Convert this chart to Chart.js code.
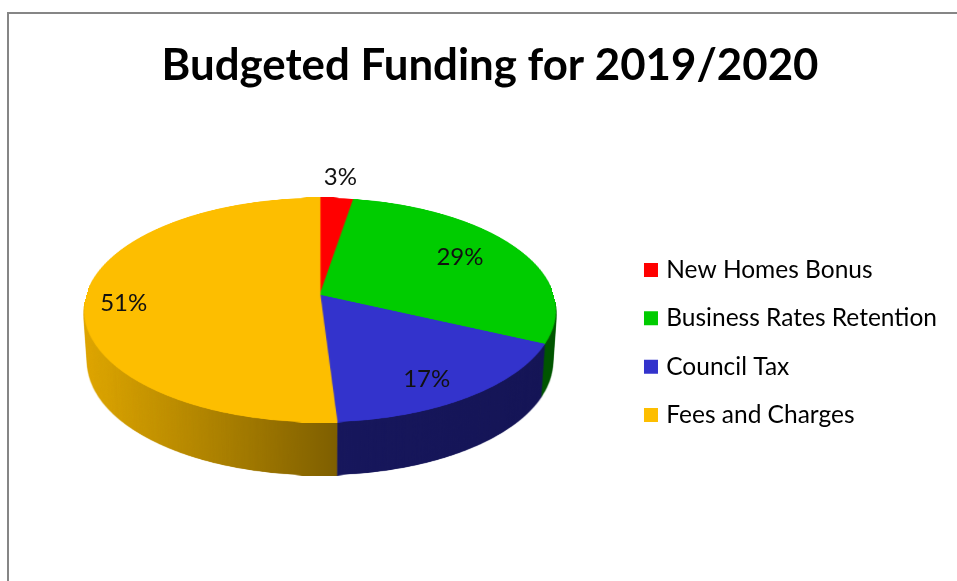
<!DOCTYPE html>
<html>
<head>
<meta charset="utf-8">
<title>Budgeted Funding for 2019/2020</title>
<script src="https://cdn.jsdelivr.net/npm/chart.js@4"></script>
<style>
  body { margin: 0; background: #fff; overflow: hidden; }
  #frame { position: absolute; left: 7px; top: 12px; width: 960px; height: 580px; border: 2px solid #868686; }
  #pie { position: absolute; left: 0; top: 0; }
</style>
</head>
<body>
<div id="frame"></div>
<canvas id="pie" width="957" height="581"></canvas>
<script>
const categories = ["New Homes Bonus", "Business Rates Retention", "Council Tax", "Fees and Charges"];
const shares = [2.6, 29.3, 17.1, 51];
const colours = ["#ff0000", "#00cc00", "#3333cc", "#fdbe00"];
// where each % label sits along its slice, 1 = on the rim, plus a small nudge
const labelRadius = [1.25, 0.73, 0.8, 0.83];
const labelNudgeX = [0, -4, -9, -2];
const labelNudgeY = [0, -2, 5, 5];

// tilted disc: apex of the pie on screen, and the perspective of the tilt
const apexX = 320, apexY = 295;
const tiltA = 110, tiltK = -0.134, rimX = 233.4;
const discTop = -97, discBottom = 127;
const wallDepth = 53, wallShrink = 0.016;

function layer() {
    const c = document.createElement("canvas");
    c.width = 957;
    c.height = 581;
    return c;
}

// unit circle point -> screen point
function project(x, y) {
    const d = 1 + tiltK * y;
    return { x: apexX + rimX * x / d, y: apexY + tiltA * y / d };
}

const tilted_pie = {
    id: "tilted_pie",
    beforeDatasetsDraw(chart) {
        const arcs = chart.getDatasetMeta(0).data;
        const R = arcs[0].outerRadius;

        // flat pie, drawn big by the arc elements
        const flatSize = 800;
        const flat = document.createElement("canvas");
        flat.width = flat.height = flatSize;
        const fctx = flat.getContext("2d");
        fctx.scale(flatSize / (2 * R), flatSize / (2 * R));
        fctx.translate(R - arcs[0].x, R - arcs[0].y);
        arcs.forEach(a => a.draw(fctx));

        // row by row onto the tilted disc
        const disc = layer();
        const dctx = disc.getContext("2d");
        dctx.imageSmoothingQuality = "high";
        for (let row = discTop - 1; row <= discBottom; row++) {
            const u0 = Math.max(-1, row / (tiltA - tiltK * row));
            const u1 = Math.min(1, (row + 1) / (tiltA - tiltK * (row + 1)));
            if (u1 <= u0) continue;
            const s = 1 / (1 + tiltK * (u0 + u1) / 2);
            dctx.drawImage(flat, 0, (u0 + 1) / 2 * flatSize, flatSize, (u1 - u0) / 2 * flatSize,
                apexX - rimX * s, apexY + row, 2 * rimX * s, 1);
        }

        // side wall: the disc stacked downwards, then shaded
        const wall = layer();
        const wctx = wall.getContext("2d");
        for (let d = wallDepth; d >= 1; d--) {
            const sx = 1 - wallShrink * d / wallDepth;
            wctx.drawImage(disc, apexX * (1 - sx), d, 957 * sx, 581);
        }
        const shade = wctx.createLinearGradient(84, 0, 556, 0);
        shade.addColorStop(0, "rgba(0,0,0,0.12)");
        shade.addColorStop(0.537, "rgba(0,0,0,0.5)");
        shade.addColorStop(0.538, "rgba(0,0,0,0.55)");
        shade.addColorStop(1, "rgba(0,0,0,0.58)");
        wctx.globalCompositeOperation = "source-atop";
        wctx.fillStyle = shade;
        wctx.fillRect(0, 0, 957, 581);

        const ctx = chart.ctx;
        ctx.drawImage(wall, 0, 0);
        ctx.drawImage(disc, 0, 0);

        // % labels
        ctx.save();
        ctx.font = "24px Lato";
        ctx.fillStyle = "#111";
        ctx.textAlign = "center";
        ctx.textBaseline = "middle";
        arcs.forEach((a, i) => {
            const mid = (a.startAngle + a.endAngle) / 2;
            const p = project(labelRadius[i] * Math.cos(mid), labelRadius[i] * Math.sin(mid));
            ctx.fillText(Math.round(shares[i]) + "%", p.x + labelNudgeX[i], p.y + labelNudgeY[i]);
        });
        ctx.restore();
        return false;
    },
};

new Chart(document.getElementById("pie"), {
    type: "pie",
    data: {
        labels: categories,
        datasets: [{ data: shares, backgroundColor: colours, borderColor: colours, borderWidth: 1 }],
    },
    options: {
        responsive: false,
        animation: false,
        layout: { padding: { left: 33, right: 10, top: 40, bottom: -64 } },
        plugins: {
            title: {
                display: true,
                text: "Budgeted Funding for 2019/2020",
                color: "#000",
                font: { family: "Lato", size: 43.8, weight: "bold" },
                padding: { top: 0, bottom: 10 },
            },
            legend: {
                position: "right",
                labels: {
                    color: "#222",
                    font: { family: "Lato", size: 24.5 },
                    boxWidth: 6,
                    boxHeight: 6,
                    padding: 23.8,
                    generateLabels: () => categories.map((text, i) => ({
                        text,
                        fillStyle: colours[i],
                        strokeStyle: colours[i],
                        lineWidth: 8,
                        index: i,
                    })),
                },
            },
            tooltip: { enabled: false },
        },
    },
    plugins: [tilted_pie],
});
</script>
</body>
</html>
